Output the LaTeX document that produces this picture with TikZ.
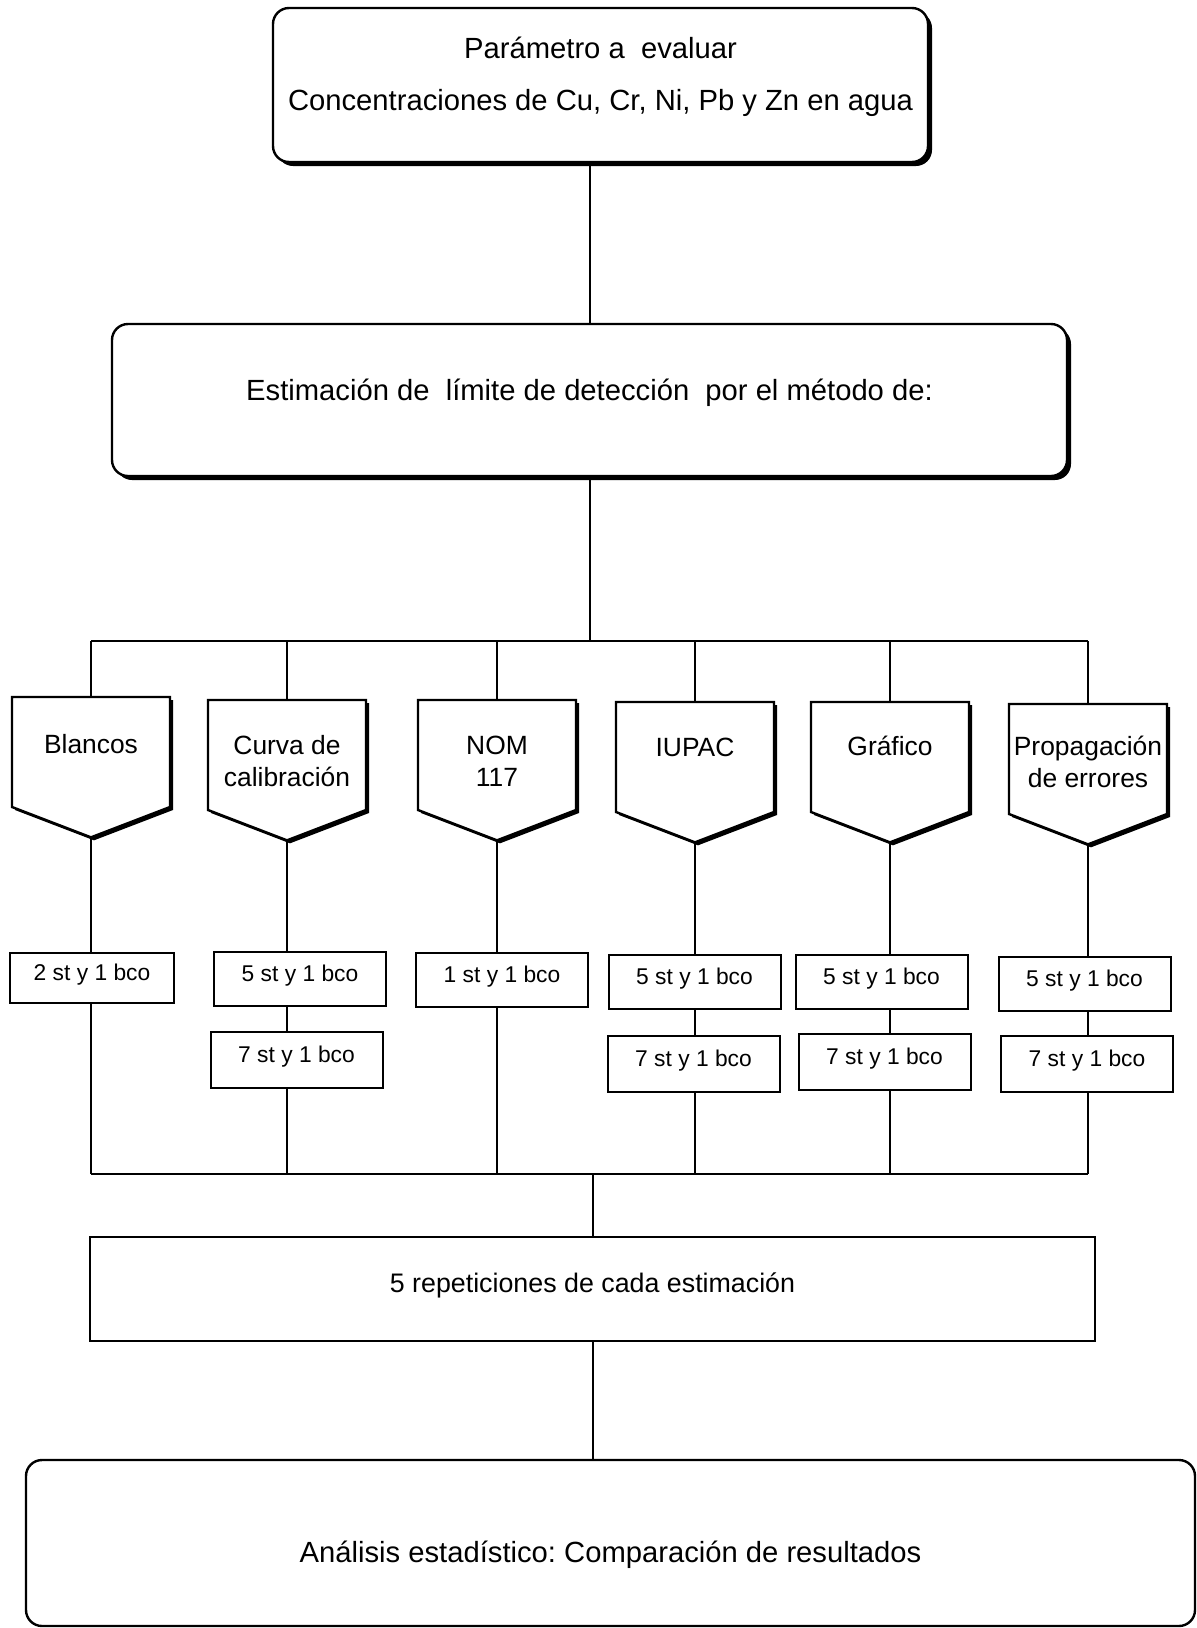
\documentclass[tikz,border=0pt]{standalone}
\usepackage{fontspec}
\setmainfont{Liberation Sans}
\usetikzlibrary{shapes.symbols, shadows, positioning}
\frenchspacing

\begin{document}
\begin{tikzpicture}[
                x=0.5pt, y=-0.5pt,
                line width=1pt,
                roundbox/.style={shape=rectangle, rounded corners=8pt, draw=black, line width=1.2pt, fill=white},
                shadowed/.style={drop shadow={shadow xshift=2pt, shadow yshift=-2pt, fill=black, opacity=1}},
                pentbox/.style={shape=signal, signal to=south, signal pointer angle=138, draw=black, line width=1.2pt,
                    fill=white, minimum width=79pt, minimum height=55pt, inner sep=0pt,
                    drop shadow={shadow xshift=1.5pt, shadow yshift=-1.5pt, fill=black, opacity=1}},
                penttext/.style={align=center, inner sep=0pt, font=\fontsize{13.2}{16}\selectfont},
                stbox/.style={shape=rectangle, draw=black, fill=white, minimum width=86pt, minimum height=27pt,
                    font=\fontsize{11.4}{13}\selectfont, text height=8.4pt, text depth=6.4pt}
            ]
                \useasboundingbox (0, 0) rectangle (1196, 1628);

                % Top boxes
                \node[roundbox, shadowed, minimum width=327.5pt, minimum height=77pt, align=center,
                    font=\fontsize{14.6}{26}\selectfont, text depth=11pt] (param) at (600.5, 85)
                    {Parámetro a \ evaluar\\Concentraciones de Cu, Cr, Ni, Pb y Zn en agua};
                \node[roundbox, shadowed, minimum width=477.5pt, minimum height=76pt,
                    font=\fontsize{14.6}{18}\selectfont, text height=10.5pt, text depth=10pt] (metodo) at (589.5, 400)
                    {Estimación de \ límite de detección \ por el método de:};

                % Methods
                \node[pentbox] (p1) at (91, 752) {};
                \node[pentbox] (p2) at (287, 755) {};
                \node[pentbox] (p3) at (497, 755) {};
                \node[pentbox] (p4) at (695, 757) {};
                \node[pentbox] (p5) at (890, 757) {};
                \node[pentbox] (p6) at (1088, 759) {};
                \node[penttext, below=19pt of p1.north] (t1) {Blancos};
                \node[penttext, below=18pt of p2.north] (t2) {Curva de\\calibración};
                \node[penttext, below=18pt of p3.north] (t3) {NOM\\117};
                \node[penttext, below=18pt of p4.north] (t4) {IUPAC};
                \node[penttext, below=17pt of p5.north] (t5) {Gráfico};
                \node[penttext, below=16pt of p6.north] (t6) {Propagación\\de errores};

                % Standards and blanks
                \node[stbox, minimum width=82pt, minimum height=25pt] (s1) at (92, 978) {2 st y 1 bco};
                \node[stbox] (s2) at (300, 979) {5 st y 1 bco};
                \node[stbox] (s3) at (502, 980) {1 st y 1 bco};
                \node[stbox] (s4) at (694.5, 982) {5 st y 1 bco};
                \node[stbox] (s5) at (881.5, 982) {5 st y 1 bco};
                \node[stbox] (s6) at (1084.5, 984) {5 st y 1 bco};
                \node[stbox, minimum height=28pt] (s2b) at (296.5, 1060) {7 st y 1 bco};
                \node[stbox, minimum height=28pt] (s4b) at (693.5, 1064) {7 st y 1 bco};
                \node[stbox, minimum height=28pt] (s5b) at (884.5, 1062) {7 st y 1 bco};
                \node[stbox, minimum height=28pt] (s6b) at (1087, 1064) {7 st y 1 bco};

                % Bottom boxes
                \node[stbox, minimum width=502.5pt, minimum height=52pt, font=\fontsize{13.4}{16}\selectfont,
                    text height=10pt, text depth=6.4pt] (rep) at (592.5, 1289) {5 repeticiones de cada estimación};
                \node[roundbox, minimum width=584.5pt, minimum height=83pt, font=\fontsize{14.6}{18}\selectfont,
                    text height=22pt, text depth=2.5pt] (anal) at (610.5, 1543) {Análisis estadístico: Comparación de resultados};

                % Buses
                \coordinate (bus1) at (0, 641);
                \coordinate (bus2) at (0, 1174);

                % Connectors
                \draw (param.south -| metodo.north) -- (metodo.north);
                \draw (metodo.south) -- (metodo.south |- bus1);
                \draw (p1.north |- bus1) -- (p6.north |- bus1);
                \foreach \p in {p1, p2, p3, p4, p5, p6} {
                    \draw (\p.north |- bus1) -- (\p.north);
                }
                \foreach \p/\s in {p1/s1, p2/s2, p3/s3, p4/s4, p5/s5, p6/s6} {
                    \draw (\p.south) -- (\p.south |- \s.north);
                }
                \foreach \p/\s/\t in {p2/s2/s2b, p4/s4/s4b, p5/s5/s5b, p6/s6/s6b} {
                    \draw (\p.south |- \s.south) -- (\p.south |- \t.north);
                }
                \foreach \p/\s in {p1/s1, p2/s2b, p3/s3, p4/s4b, p5/s5b, p6/s6b} {
                    \draw (\p.south |- \s.south) -- (\p.south |- bus2);
                }
                \draw (p1.south |- bus2) -- (p6.south |- bus2);
                \draw (rep.north |- bus2) -- (rep.north);
                \draw (rep.south) -- (rep.south |- anal.north);
            \end{tikzpicture}
\end{document}
